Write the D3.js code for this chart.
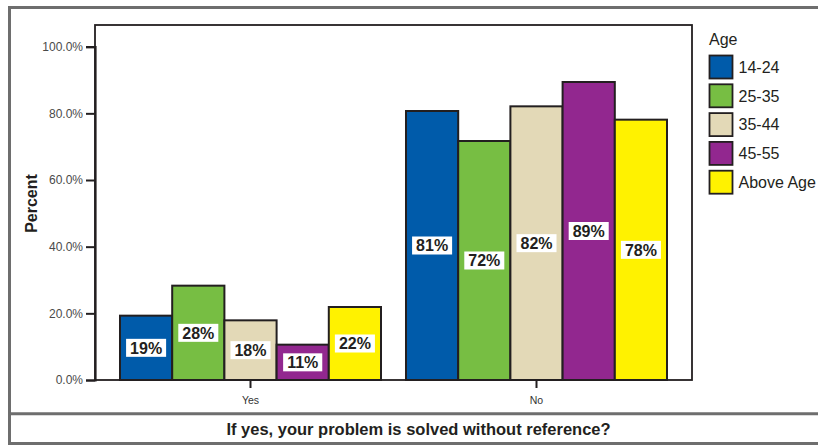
<!DOCTYPE html>
<html><head><meta charset="utf-8">
<script src="https://cdn.jsdelivr.net/npm/d3@7"></script>
<style>html,body{margin:0;padding:0;background:#fff;}svg{display:block;}</style>
</head><body>
<script>
const categories = ["Yes", "No"];
const ageGroups = ["14-24", "25-35", "35-44", "45-55", "Above Age"];
const yesValues = [19.3, 28.3, 17.9, 10.6, 21.9];
const noValues = [80.7, 71.7, 82.1, 89.4, 78.1];
const colors = ["#005BAA", "#77BE43", "#E3D9B7", "#92278F", "#FFF200"];
const yTicks = [0, 20, 40, 60, 80, 100];
const yTitle = "Percent";
const xTitle = "If yes, your problem is solved without reference?";
const legendTitle = "Age";

(function () {
const W = 818, H = 446;
const svg = d3.select("body").append("svg").attr("width", W).attr("height", H);
const dark = "#231F20", grey = "#6E6E6E";
const font = "'Liberation Sans', Arial, sans-serif";

// outer frame
svg.append("path").attr("d", `M ${W + 5} 7.5 H 9.5 V 443.5 H ${W + 5}`)
  .attr("fill", "none").attr("stroke", grey).attr("stroke-width", 3);
svg.append("line").attr("x1", 9.5).attr("x2", W + 5).attr("y1", 413.8).attr("y2", 413.8)
  .attr("stroke", grey).attr("stroke-width", 3);

const pLeft = 95, pRight = 692, pTop = 25, pBottom = 380;
const x0 = d3.scaleBand().domain(categories).range([pLeft, pRight]).padding(0.0874);
const x1 = d3.scaleBand().domain(ageGroups).range([0, x0.bandwidth()]);
const y = d3.scaleLinear().domain([0, 100]).range([pBottom, pBottom - 100 * 3.3333]);

// plot frame
svg.append("rect").attr("x", pLeft).attr("y", pTop).attr("width", pRight - pLeft).attr("height", pBottom - pTop)
  .attr("fill", "none").attr("stroke", dark).attr("stroke-width", 1.8);

// y axis
const yAxis = svg.append("g").attr("transform", `translate(${pLeft},0)`)
  .call(d3.axisLeft(y).tickValues(yTicks).tickFormat(d => d.toFixed(1) + "%").tickSize(9).tickPadding(3));
yAxis.select(".domain").attr("stroke", dark).attr("stroke-width", 2.2);
yAxis.selectAll(".tick line").attr("stroke", dark).attr("stroke-width", 2);
yAxis.selectAll(".tick text").attr("fill", "#4a4a4a").attr("font-family", font).attr("font-size", "12px");

// x axis
const xAxis = svg.append("g").attr("transform", `translate(0,${pBottom})`)
  .call(d3.axisBottom(x0).tickSize(8).tickPadding(9));
xAxis.select(".domain").remove();
xAxis.selectAll(".tick line").attr("stroke", dark).attr("stroke-width", 2);
xAxis.selectAll(".tick text").attr("fill", "#333").attr("font-family", font).attr("font-size", "10.5px");

// bars
const data = [];
categories.forEach((c, ci) => {
  const vals = ci === 0 ? yesValues : noValues;
  ageGroups.forEach((a, ai) => data.push({ cat: c, age: a, v: vals[ai], color: colors[ai] }));
});
const g = svg.append("g");
g.selectAll("rect.bar").data(data).join("rect").attr("class", "bar")
  .attr("x", d => x0(d.cat) + x1(d.age))
  .attr("y", d => y(d.v))
  .attr("width", x1.bandwidth())
  .attr("height", d => y(0) - y(d.v))
  .attr("fill", d => d.color).attr("stroke", dark).attr("stroke-width", 2);

// value labels
const lab = svg.append("g");
data.forEach(d => {
  const cx = x0(d.cat) + x1(d.age) + x1.bandwidth() / 2;
  const cy = (y(d.v) + y(0)) / 2;
  const t = lab.append("text").attr("x", cx).attr("y", cy).attr("dy", "0.36em")
    .attr("text-anchor", "middle").attr("font-family", font).attr("font-weight", "bold")
    .attr("font-size", "16px").attr("fill", dark).text(Math.round(d.v) + "%");
  const bb = t.node().getBBox();
  lab.insert("rect", "text").attr("x", cx - bb.width / 2 - 4).attr("y", cy - 9)
    .attr("width", bb.width + 8).attr("height", 18).attr("fill", "#fff");
});

// y title
svg.append("text").attr("transform", `translate(37,${(pTop + pBottom) / 2 + 1}) rotate(-90)`)
  .attr("text-anchor", "middle").attr("font-family", font).attr("font-weight", "bold")
  .attr("font-size", "16px").attr("fill", dark).text(yTitle);

// x title
svg.append("text").attr("x", 418.5).attr("y", 429).attr("dy", "0.36em").attr("text-anchor", "middle")
  .attr("font-family", font).attr("font-weight", "bold").attr("font-size", "16.5px").attr("fill", dark).text(xTitle);

// legend
const lg = svg.append("g");
lg.append("text").attr("x", 709).attr("y", 45).attr("font-family", font).attr("font-size", "16px")
  .attr("fill", dark).text(legendTitle);
ageGroups.forEach((a, i) => {
  const yy = 55.5 + i * 28.8;
  lg.append("rect").attr("x", 709.5).attr("y", yy).attr("width", 23).attr("height", 23)
    .attr("fill", colors[i]).attr("stroke", dark).attr("stroke-width", 1.8);
  lg.append("text").attr("x", 738.5).attr("y", yy + 11.5).attr("dy", "0.36em")
    .attr("font-family", font).attr("font-size", "16px").attr("fill", dark).text(a);
});
})();
</script>
</body></html>
